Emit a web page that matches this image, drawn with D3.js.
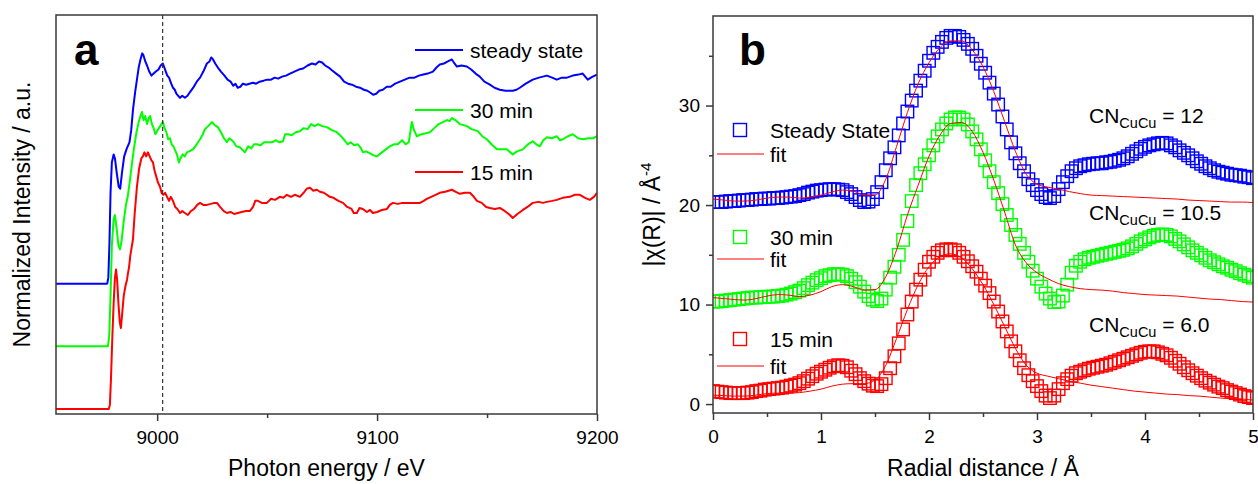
<!DOCTYPE html>
<html>
<head>
<meta charset="utf-8">
<script src="https://cdn.jsdelivr.net/npm/d3@7"></script>
<style>
  body { margin: 0; background: #fff; }
  svg { display: block; }
  text { font-family: "Liberation Sans", Arial, sans-serif; fill: #000; }
</style>
</head>
<body>
<svg id="chart" width="1258" height="484"></svg>
<script>
// ---------- panel a : XANES, [energy eV, normalized mu] ----------
let xanesSteady = [[8954,0],[8977.3,0],[8977.8,0.03],[8978.3,0.2],[8978.8,0.45],[8979.4,0.6],[8980.2,0.64],[8980.8,0.62],[8981.6,0.55],[8982.5,0.48],[8983.2,0.47],[8984.0,0.55],[8985.0,0.63],[8986.2,0.67],[8987.4,0.70],[8988.2,0.76],[8989.0,0.86],[8990.0,0.95],[8990.8,1.01],[8991.6,1.07],[8992.4,1.11],[8993.2,1.14],[8993.8,1.13],[8994.6,1.10],[8995.4,1.08],[8996.4,1.05],[8997.4,1.03],[8998.4,1.04],[8999.4,1.05],[9000.6,1.06],[9001.6,1.08],[9002.6,1.09],[9003.6,1.06],[9004.6,1.03],[9005.4,1.02],[9006.4,0.99],[9007.2,0.97],[9008.0,0.96],[9008.8,0.94],[9009.6,0.93],[9010.4,0.92],[9011.4,0.93],[9012.6,0.92],[9013.8,0.93],[9015.0,0.95],[9016.4,0.97],[9018.0,1.0],[9019.5,1.02],[9021.0,1.05],[9022.6,1.09],[9023.8,1.10],[9024.6,1.12],[9025.4,1.11],[9026.4,1.09],[9027.6,1.07],[9029.0,1.05],[9030.6,1.03],[9032.0,1.01],[9033.4,1.0],[9034.6,0.98],[9035.6,0.99],[9036.6,0.97],[9037.8,0.975],[9039.0,0.99],[9040.4,0.985],[9042.0,0.99],[9043.5,0.995],[9045.0,0.99],[9046.6,1.0],[9048.4,1.005],[9050.0,1.01],[9051.8,1.01],[9053.4,1.02],[9055.0,1.015],[9056.8,1.025],[9058.6,1.03],[9060.4,1.04],[9062.4,1.05],[9064.4,1.06],[9066.4,1.065],[9068.4,1.08],[9070.4,1.09],[9072.0,1.085],[9073.6,1.10],[9075.0,1.095],[9076.4,1.08],[9078.0,1.07],[9079.6,1.055],[9081.4,1.04],[9083.2,1.025],[9085.0,1.0],[9086.8,0.99],[9088.6,0.985],[9090.4,0.975],[9092.2,0.97],[9094.0,0.96],[9095.6,0.955],[9097.0,0.945],[9098.2,0.935],[9099.6,0.94],[9101.0,0.955],[9102.6,0.96],[9104.4,0.975],[9106.2,0.975],[9108.2,0.99],[9110.4,1.0],[9112.6,1.01],[9114.8,1.02],[9117.0,1.02],[9119.0,1.03],[9121.0,1.035],[9123.0,1.04],[9125.4,1.05],[9127.0,1.07],[9128.5,1.085],[9130.4,1.09],[9132.2,1.10],[9134.0,1.11],[9135.2,1.09],[9136.3,1.075],[9138.4,1.08],[9140.8,1.075],[9142.8,1.06],[9144.8,1.04],[9146.7,1.025],[9148.8,1.0],[9151.3,0.985],[9153.4,0.97],[9155.8,0.96],[9158.4,0.955],[9161.7,0.955],[9163.4,0.96],[9164.9,0.97],[9167.6,0.99],[9170.8,1.01],[9173.6,1.02],[9177.2,1.03],[9179.6,1.02],[9181.7,1.01],[9184.0,1.02],[9186.3,1.02],[9189.0,1.03],[9191.6,1.035],[9193.5,1.04],[9195.8,1.01],[9198.0,1.025],[9200,1.035]];

let xanes30 = [[8954,0],[8977.6,0],[8978.2,0.05],[8978.8,0.25],[8979.4,0.5],[8980.2,0.63],[8980.8,0.65],[8981.6,0.58],[8982.4,0.5],[8983.1,0.48],[8983.8,0.52],[8984.8,0.62],[8985.8,0.70],[8986.6,0.74],[8987.6,0.82],[8988.6,0.91],[8989.6,0.99],[8990.6,1.06],[8991.6,1.11],[8992.4,1.14],[8993.1,1.16],[8993.8,1.12],[8994.6,1.14],[8995.4,1.10],[8996.2,1.13],[8996.8,1.14],[8997.6,1.10],[8998.4,1.08],[8999.2,1.05],[9000.2,1.07],[9001.4,1.09],[9002.6,1.11],[9003.4,1.08],[9004.2,1.06],[9005.0,1.025],[9005.8,1.03],[9006.6,1.0],[9007.4,0.99],[9008.2,0.97],[9009.0,0.95],[9009.9,0.91],[9010.6,0.93],[9011.6,0.95],[9012.6,0.94],[9013.5,0.96],[9014.6,0.965],[9016.3,0.975],[9018.0,1.0],[9019.5,1.025],[9020.8,1.05],[9021.7,1.075],[9023.2,1.09],[9024.9,1.11],[9026.2,1.095],[9027.6,1.085],[9029.0,1.06],[9030.4,1.03],[9031.7,1.01],[9032.8,1.03],[9034.5,1.015],[9036.0,0.99],[9037.6,0.985],[9039.0,0.97],[9039.9,0.96],[9041.4,0.99],[9042.8,0.98],[9044.0,1.0],[9045.4,1.0],[9047.0,0.995],[9048.6,1.01],[9050.4,1.01],[9052.2,1.01],[9054.0,1.02],[9055.6,1.01],[9057.2,1.015],[9058.2,1.05],[9059.6,1.05],[9061.2,1.045],[9063.0,1.06],[9064.9,1.065],[9066.6,1.08],[9068.4,1.075],[9070.0,1.10],[9071.6,1.09],[9073.2,1.10],[9075.0,1.09],[9077.2,1.085],[9079.4,1.07],[9081.7,1.06],[9083.6,1.04],[9085.2,1.02],[9086.6,1.0],[9088.0,1.01],[9089.6,0.995],[9091.2,1.0],[9092.4,0.985],[9093.6,0.96],[9095.0,0.965],[9096.8,0.955],[9098.4,0.945],[9099.9,0.94],[9101.6,0.955],[9103.4,0.97],[9105.8,0.99],[9107.6,1.0],[9109.4,1.0],[9111.4,1.02],[9113.0,1.0],[9114.4,1.01],[9115.8,1.11],[9116.8,1.07],[9118.1,1.04],[9120.2,1.05],[9122.2,1.055],[9124.0,1.06],[9126.0,1.08],[9128.0,1.1],[9129.9,1.11],[9131.8,1.12],[9133.0,1.115],[9134.0,1.13],[9135.6,1.12],[9137.6,1.10],[9139.4,1.095],[9140.8,1.09],[9143.0,1.075],[9145.8,1.065],[9147.8,1.04],[9149.9,1.025],[9152.0,1.0],[9154.5,0.975],[9156.6,0.975],[9159.0,0.975],[9160.6,0.96],[9161.7,0.95],[9163.6,0.965],[9166.3,0.975],[9168.6,1.0],[9170.8,1.015],[9172.4,1.0],[9174.0,0.99],[9175.6,1.02],[9177.2,1.035],[9179.4,1.03],[9181.7,1.04],[9183.2,1.02],[9184.5,1.025],[9186.8,1.04],[9189.0,1.05],[9191.4,1.03],[9193.5,1.025],[9196.0,1.03],[9198.2,1.03],[9200,1.04]];

let xanes15 = [[8954,0],[8978.0,0],[8978.5,0.02],[8979.0,0.15],[8979.6,0.35],[8980.2,0.52],[8980.8,0.65],[8981.3,0.69],[8981.8,0.64],[8982.4,0.52],[8983.0,0.43],[8983.5,0.40],[8984.0,0.46],[8984.8,0.56],[8985.6,0.61],[8986.3,0.64],[8986.7,0.67],[8987.2,0.70],[8987.8,0.76],[8988.4,0.80],[8989.0,0.84],[8989.8,0.97],[8990.8,1.10],[8991.8,1.19],[8992.8,1.24],[8993.5,1.25],[8994.2,1.27],[8995.0,1.25],[8995.8,1.27],[8996.6,1.25],[8997.4,1.23],[8998.1,1.22],[8998.8,1.18],[8999.6,1.15],[9000.4,1.12],[9001.3,1.10],[9002.0,1.07],[9002.8,1.06],[9003.6,1.07],[9004.5,1.05],[9005.4,1.03],[9006.2,1.05],[9007.2,1.03],[9008.2,1.0],[9009.2,0.99],[9010.4,0.97],[9011.4,0.98],[9012.6,0.97],[9014.0,0.96],[9015.4,0.98],[9016.8,0.99],[9018.2,1.01],[9019.5,1.02],[9021.0,1.01],[9022.6,1.01],[9024.4,1.015],[9026.0,1.02],[9027.2,1.02],[9028.6,1.0],[9030.2,0.98],[9031.7,0.97],[9033.4,0.975],[9035.0,0.965],[9036.7,0.97],[9038.4,0.975],[9040.4,0.98],[9042.2,0.98],[9043.6,1.0],[9044.6,1.03],[9045.8,1.03],[9047.6,1.02],[9049.9,1.02],[9051.8,1.04],[9053.6,1.035],[9055.8,1.05],[9057.4,1.045],[9059.0,1.06],[9060.8,1.05],[9062.6,1.06],[9064.9,1.05],[9066.6,1.07],[9068.0,1.09],[9069.5,1.095],[9071.0,1.08],[9072.6,1.085],[9074.0,1.075],[9075.8,1.07],[9078.5,1.05],[9080.2,1.045],[9082.4,1.03],[9084.5,1.02],[9086.4,1.0],[9088.4,0.99],[9089.4,0.97],[9090.8,0.97],[9092.0,0.995],[9093.5,0.99],[9095.4,0.975],[9096.8,0.985],[9098.1,0.97],[9100.0,0.975],[9102.2,0.985],[9104.5,0.99],[9105.8,1.01],[9107.2,1.02],[9109.4,1.015],[9111.7,1.02],[9114.0,1.02],[9116.8,1.02],[9119.5,1.02],[9121.2,1.03],[9122.6,1.04],[9124.6,1.05],[9126.6,1.06],[9128.5,1.07],[9131.0,1.075],[9134.0,1.085],[9135.8,1.075],[9137.6,1.065],[9140.0,1.07],[9142.2,1.07],[9144.0,1.05],[9145.4,1.03],[9147.6,1.02],[9149.6,1.0],[9151.3,0.995],[9153.6,0.99],[9155.8,0.995],[9158.0,0.98],[9160.4,0.96],[9161.7,0.945],[9163.8,0.965],[9166.3,0.985],[9168.4,1.0],[9170.8,1.02],[9173.4,1.025],[9175.4,1.02],[9177.2,1.025],[9179.6,1.03],[9181.7,1.035],[9184.4,1.045],[9187.6,1.05],[9190.0,1.06],[9192.2,1.06],[9194.6,1.045],[9196.7,1.035],[9198.6,1.05],[9200,1.07]];

let xanesNames = ["steady state", "30 min", "15 min"];
let xanesOffsets = [0.62, 0.31, 0];
let edgeLine = 9002.5;
let energyTicks = [9000, 9100, 9200];
let energyMinor = [9050, 9150];

// ---------- panel b : |chi(R)|, sampled every 0.04 A (markers) / 0.1 A (fits) ----------
let chiSteady = [20.3,20.3,20.3,20.35,20.4,20.4,20.45,20.5,20.5,20.55,20.6,20.6,20.65,20.65,20.7,20.7,20.75,20.8,20.85,20.9,21.0,21.1,21.25,21.35,21.45,21.5,21.55,21.6,21.6,21.55,21.5,21.3,21.1,20.8,20.5,20.3,20.35,20.6,21.3,22.3,23.5,24.7,25.8,27.0,28.2,29.4,30.5,31.5,32.5,33.5,34.5,35.3,35.9,36.4,36.8,37.0,37.0,36.9,36.6,36.2,35.7,35.0,34.2,33.3,32.3,31.2,30.1,28.9,27.6,26.3,25.2,24.2,23.4,22.6,22.0,21.5,21.1,20.8,20.7,20.9,21.6,22.3,22.9,23.4,23.7,23.9,24.0,24.1,24.15,24.2,24.2,24.3,24.35,24.45,24.55,24.7,24.9,25.15,25.4,25.65,25.85,26.0,26.1,26.2,26.25,26.2,26.0,25.8,25.5,25.25,25.0,24.7,24.4,24.15,23.9,23.7,23.5,23.35,23.25,23.15,23.05,23.0,22.95,22.85,22.8,22.7];
let chi30 = [10.3,10.3,10.35,10.4,10.45,10.5,10.55,10.6,10.65,10.7,10.7,10.75,10.75,10.8,10.8,10.85,10.9,11.0,11.1,11.25,11.4,11.65,11.95,12.2,12.45,12.65,12.85,12.95,13.05,13.05,13.0,12.85,12.6,12.25,11.8,11.3,10.85,10.5,10.35,10.6,11.5,12.7,13.8,15.0,16.5,18.4,20.4,22.0,23.2,24.1,25.0,26.0,26.9,27.6,28.2,28.6,28.8,28.8,28.6,28.1,27.4,26.6,25.6,24.5,23.4,22.3,21.2,20.1,19.0,18.0,17.0,16.1,15.2,14.3,13.4,12.6,11.8,11.1,10.6,10.25,10.3,10.9,12.0,13.2,13.9,14.3,14.55,14.7,14.8,14.9,15.0,15.1,15.2,15.3,15.4,15.5,15.65,15.85,16.1,16.35,16.55,16.75,16.9,17.0,17.05,17.0,16.85,16.6,16.35,16.05,15.75,15.45,15.2,14.95,14.7,14.45,14.25,14.05,13.85,13.7,13.5,13.35,13.15,13.0,12.85,12.7];
let chi15 = [1.3,1.25,1.2,1.15,1.1,1.1,1.1,1.1,1.15,1.2,1.3,1.35,1.45,1.5,1.55,1.6,1.65,1.75,1.85,1.95,2.1,2.3,2.55,2.8,3.05,3.25,3.45,3.65,3.8,3.9,3.85,3.7,3.35,3.0,2.6,2.3,2.05,1.85,1.8,2.0,2.6,3.6,4.8,6.1,7.5,9.0,10.3,11.5,12.5,13.5,14.3,14.8,15.2,15.45,15.55,15.55,15.45,15.2,14.8,14.35,13.85,13.3,12.6,11.9,11.15,10.3,9.3,8.3,7.3,6.3,5.3,4.4,3.6,2.9,2.3,1.8,1.3,0.85,0.6,0.85,1.5,2.1,2.5,2.85,3.1,3.25,3.4,3.55,3.65,3.75,3.85,3.95,4.1,4.25,4.4,4.55,4.7,4.85,5.0,5.15,5.25,5.3,5.3,5.2,5.05,4.9,4.65,4.35,4.05,3.7,3.4,3.1,2.85,2.6,2.35,2.15,1.95,1.75,1.6,1.4,1.25,1.1,0.95,0.8,0.7,0.6];

let fitSteady = [20.6,20.5,20.4,20.4,20.5,20.7,20.8,20.8,20.7,20.8,21.0,21.3,21.5,21.4,21.0,21.0,22.6,25.9,29.3,32.2,34.3,35.8,36.5,36.5,35.6,33.9,31.4,28.4,25.4,23.1,22.1,21.8,21.6,21.35,21.15,21.0,20.95,20.9,20.85,20.8,20.75,20.7,20.65,20.6,20.5,20.45,20.4,20.35,20.3,20.3,20.25];
let fit30 = [10.7,10.6,10.5,10.45,10.6,10.85,11.0,10.95,10.8,10.95,11.3,11.8,12.0,11.8,11.45,11.5,12.8,15.5,19.0,22.0,24.9,27.0,28.2,28.3,27.4,25.3,22.5,19.3,16.0,14.2,13.2,12.6,12.1,11.8,11.6,11.5,11.45,11.35,11.2,11.1,11.0,10.95,10.9,10.85,10.75,10.65,10.55,10.5,10.4,10.3,10.25];
let fit15 = [0.9,0.85,0.8,0.8,0.9,1.05,1.1,1.1,1.15,1.3,1.5,1.8,2.0,2.05,2.05,2.4,3.9,6.6,9.5,12.0,13.8,14.8,15.1,14.7,13.6,12.0,10.0,7.8,5.6,3.9,3.1,2.8,2.55,2.3,2.1,1.9,1.75,1.6,1.45,1.3,1.2,1.1,1.0,0.95,0.85,0.8,0.7,0.6,0.55,0.5,0.4];

let exafsNames = ["Steady State", "30 min", "15 min"];
let cnValues = ["12", "10.5", "6.0"];
let rTicks = [0, 1, 2, 3, 4, 5];
let rMinor = [0.5, 1.5, 2.5, 3.5, 4.5];
let chiTicks = [0, 10, 20, 30];
let chiMinor = [5, 15, 25, 35];

let seriesColors = ["#0000ff", "#00ff00", "#ff0000"];
let fitColor = "#ff0000";
let frameColor = "#3a3a3a";

let markerStep = 0.04, fitStep = 0.1;

let svg = d3.select("#chart");

function styleAxis(g) {
    g.select(".domain").remove();
    g.selectAll(".tick line").attr("stroke", frameColor).attr("stroke-width", 1.5);
    g.selectAll(".tick text").style("font-size", "19px").style("font-family", "Liberation Sans, Arial, sans-serif").attr("fill", "#000");
}

// ================= panel a =================
let xA = d3.scaleLinear().domain([8954, 9200]).range([56, 597]);
let yA = d3.scaleLinear().domain([-0.025, 1.95]).range([414, 15]);

svg.append("clipPath").attr("id", "clipA").append("rect")
    .attr("x", 56).attr("y", 15).attr("width", 541).attr("height", 399);

let lineA = d3.line().x(d => xA(d[0]));
[xanesSteady, xanes30, xanes15].forEach(function(series, i) {
    svg.append("path")
        .datum(series)
        .attr("clip-path", "url(#clipA)")
        .attr("fill", "none")
        .attr("stroke", seriesColors[i])
        .attr("stroke-width", 2)
        .attr("stroke-linejoin", "round")
        .attr("d", lineA.y(d => yA(d[1] + xanesOffsets[i])));
});

// dashed edge marker
svg.append("line")
    .attr("x1", xA(edgeLine)).attr("x2", xA(edgeLine))
    .attr("y1", yA.range()[1]).attr("y2", yA.range()[0])
    .attr("stroke", "#333").attr("stroke-width", 1.2)
    .attr("stroke-dasharray", "4,3");

svg.append("rect")
    .attr("x", 56).attr("y", 15).attr("width", 541).attr("height", 399)
    .attr("fill", "none").attr("stroke", frameColor).attr("stroke-width", 1.5);

svg.append("g").attr("transform", "translate(0,414)")
    .call(d3.axisBottom(xA).tickValues(energyTicks).tickSize(7).tickPadding(9.5).tickFormat(d3.format("d")))
    .call(styleAxis);
svg.append("g").attr("transform", "translate(0,414)")
    .call(d3.axisBottom(xA).tickValues(energyMinor).tickSize(4).tickFormat(""))
    .call(styleAxis);

// legend a
let legendAY = [50, 110, 172];
xanesNames.forEach(function(name, i) {
    svg.append("line")
        .attr("x1", 415).attr("x2", 463)
        .attr("y1", legendAY[i]).attr("y2", legendAY[i])
        .attr("stroke", seriesColors[i]).attr("stroke-width", 2);
    svg.append("text")
        .attr("x", 470).attr("y", legendAY[i] + 7.5)
        .style("font-size", "21px")
        .text(name);
});

svg.append("text").attr("x", 74).attr("y", 65)
    .style("font-size", "44px").style("font-weight", "bold").text("a");

svg.append("text").attr("x", 326.5).attr("y", 476)
    .attr("text-anchor", "middle").style("font-size", "23px")
    .text("Photon energy / eV");

svg.append("text")
    .attr("transform", "translate(30,214.5) rotate(-90)")
    .attr("text-anchor", "middle").style("font-size", "23px")
    .text("Normalized Intensity / a.u.");

// ================= panel b =================
let xB = d3.scaleLinear().domain([0, 5]).range([713, 1253]);
let yB = d3.scaleLinear().domain([-0.9, 39]).range([413, 16]);

svg.append("clipPath").attr("id", "clipB").append("rect")
    .attr("x", 713).attr("y", 16).attr("width", 540).attr("height", 397);

let sq = 12.5;
let fitLine = d3.line()
    .x((d, i) => xB(i * fitStep))
    .y(d => yB(d))
    .curve(d3.curveMonotoneX);

let plotB = svg.append("g").attr("clip-path", "url(#clipB)");
[chiSteady, chi30, chi15].forEach(function(series, i) {
    plotB.selectAll(".sq" + i)
        .data(series)
        .enter()
        .append("rect")
        .attr("x", (d, j) => xB(j * markerStep) - sq / 2)
        .attr("y", d => yB(d) - sq / 2)
        .attr("width", sq).attr("height", sq)
        .attr("fill", "none")
        .attr("stroke", seriesColors[i])
        .attr("stroke-width", 1.4);
});
[fitSteady, fit30, fit15].forEach(function(series) {
    plotB.append("path")
        .datum(series)
        .attr("fill", "none")
        .attr("stroke", fitColor)
        .attr("stroke-width", 1)
        .attr("d", fitLine);
});

svg.append("rect")
    .attr("x", 713).attr("y", 16).attr("width", 540).attr("height", 397)
    .attr("fill", "none").attr("stroke", frameColor).attr("stroke-width", 1.5);

svg.append("g").attr("transform", "translate(0,413)")
    .call(d3.axisBottom(xB).tickValues(rTicks).tickSize(7).tickPadding(9.5).tickFormat(d3.format("d")))
    .call(styleAxis);
svg.append("g").attr("transform", "translate(0,413)")
    .call(d3.axisBottom(xB).tickValues(rMinor).tickSize(4).tickFormat(""))
    .call(styleAxis);
svg.append("g").attr("transform", "translate(713,0)")
    .call(d3.axisLeft(yB).tickValues(chiTicks).tickSize(7).tickPadding(6))
    .call(styleAxis);
svg.append("g").attr("transform", "translate(713,0)")
    .call(d3.axisLeft(yB).tickValues(chiMinor).tickSize(4).tickFormat(""))
    .call(styleAxis);

// legend b
let legendBY = [130, 237, 339];
let legendFitY = [154, 259, 366];
exafsNames.forEach(function(name, i) {
    svg.append("rect")
        .attr("x", 740 - 6.5).attr("y", legendBY[i] - 6.5)
        .attr("width", 13).attr("height", 13)
        .attr("fill", "none").attr("stroke", seriesColors[i]).attr("stroke-width", 1.4);
    svg.append("text").attr("x", 770).attr("y", legendBY[i] + 7.5)
        .style("font-size", "21px").text(name);
    svg.append("line")
        .attr("x1", 717).attr("x2", 764)
        .attr("y1", legendFitY[i]).attr("y2", legendFitY[i])
        .attr("stroke", fitColor).attr("stroke-width", 1);
    svg.append("text").attr("x", 770).attr("y", legendFitY[i] + 7.5)
        .style("font-size", "21px").text("fit");
});

// coordination number labels
let cnY = [123, 220, 332];
cnValues.forEach(function(v, i) {
    let t = svg.append("text").attr("x", 1089).attr("y", cnY[i]).style("font-size", "21px");
    t.append("tspan").text("CN");
    t.append("tspan").attr("dy", 5).style("font-size", "14.5px").text("CuCu");
    t.append("tspan").attr("dy", -5).text(" = " + v);
});

svg.append("text").attr("x", 739).attr("y", 65)
    .style("font-size", "44px").style("font-weight", "bold").text("b");

svg.append("text").attr("x", 983).attr("y", 476)
    .attr("text-anchor", "middle").style("font-size", "23px")
    .text("Radial distance / Å");

let yLabB = svg.append("text")
    .attr("transform", "translate(660,214.5) rotate(-90)")
    .attr("text-anchor", "middle").style("font-size", "23px");
yLabB.append("tspan").text("|χ(R)| / Å");
yLabB.append("tspan").attr("dy", -9).style("font-size", "15px").text("-4");
</script>
</body>
</html>
